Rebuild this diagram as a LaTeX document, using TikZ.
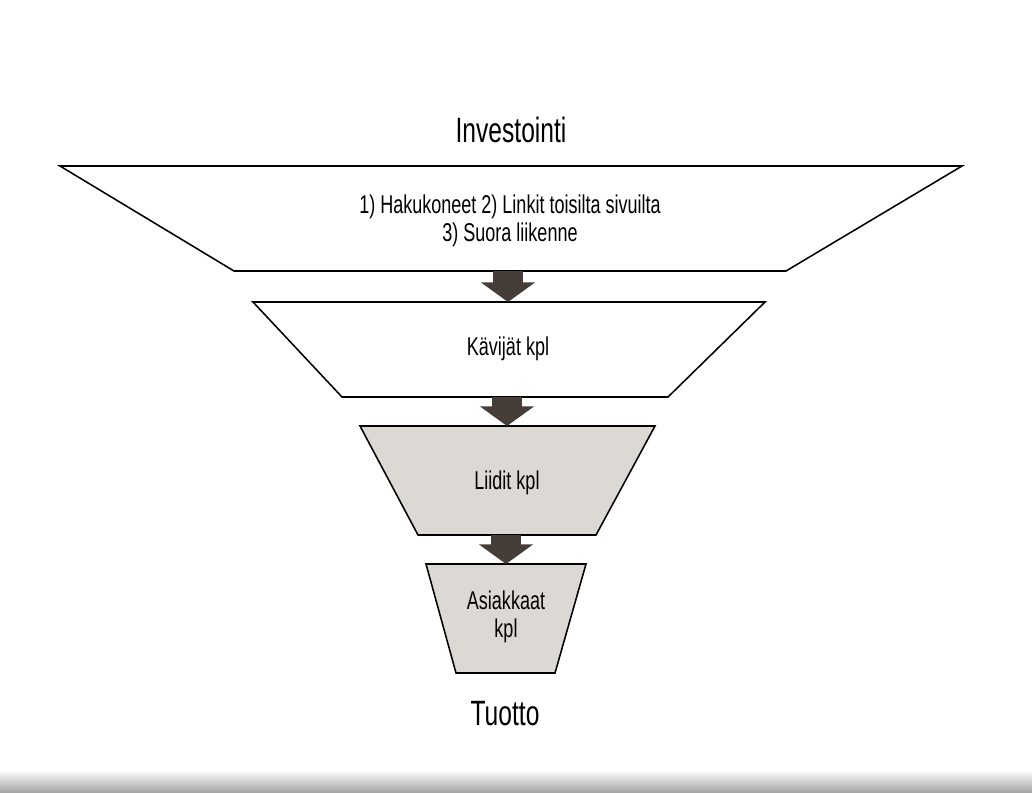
\documentclass[tikz,border=0pt]{standalone}
\usepackage{fontspec}
\setmainfont{Liberation Sans}[FakeStretch=0.7]
\usetikzlibrary{arrows.meta}
\definecolor{funnelgray}{HTML}{DCD9D4}
\definecolor{arrowbrown}{HTML}{463D38}

\begin{document}
\begin{tikzpicture}[
        x=0.025cm, y=-0.025cm,
        stage/.style={draw, line width=1.1pt, line join=miter},
        whitestage/.style={stage, fill=white},
        graystage/.style={stage, fill=funnelgray},
        stagetext/.style={font=\fontsize{18.3}{20}\selectfont, align=center, inner sep=0pt},
        headtext/.style={font=\fontsize{25}{29}\selectfont, inner sep=0pt},
        flow/.style={draw=arrowbrown, line width=21pt, -{Triangle[width=38pt,length=14pt]}},
    ]
    \useasboundingbox (0,0) rectangle (1032,792);
    \fill[top color=white, bottom color=black!35] (0,770) rectangle (1032,792);

    % funnel stages
    \path[whitestage] (60,166) -- (962,166) -- (786,271) -- (234,271) -- cycle;
    \path[whitestage] (253,302) -- (765,302) -- (668,397) -- (342,397) -- cycle;
    \path[graystage] (360,426) -- (655,426) -- (596,535) -- (418,535) -- cycle;
    \path[graystage] (426,564) -- (586,564) -- (555,673) -- (456,673) -- cycle;

    \coordinate (s1b) at (508,271);
    \coordinate (s2t) at (508,302);
    \coordinate (s2b) at (507,397);
    \coordinate (s3t) at (507,426);
    \coordinate (s3b) at (506,535);
    \coordinate (s4t) at (506,564);

    \node[headtext] (invest) at (511,130) {Investointi};
    \node[stagetext] (sources) at (510,221) {1) Hakukoneet 2) Linkit toisilta sivuilta\\3) Suora liikenne};
    \node[stagetext] (visitors) at (508,349) {Kävijät kpl};
    \node[stagetext] (leads) at (507,483) {Liidit kpl};
    \node[stagetext] (customers) at (506,617) {Asiakkaat\\kpl};
    \node[headtext] (profit) at (505,714) {Tuotto};

    \draw[flow] (s1b) -- (s2t);
    \draw[flow] (s2b) -- (s3t);
    \draw[flow] (s3b) -- (s4t);
\end{tikzpicture}
\end{document}
